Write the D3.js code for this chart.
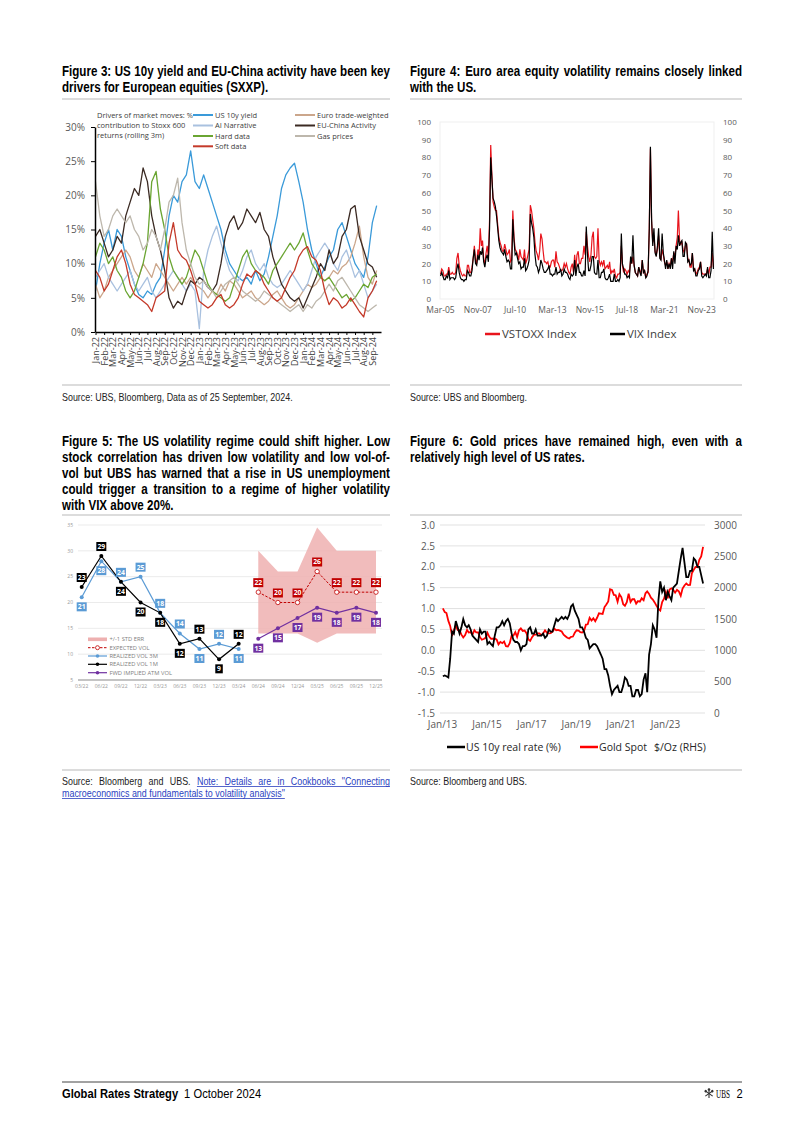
<!DOCTYPE html>
<html><head><meta charset="utf-8">
<script src="https://cdn.jsdelivr.net/npm/d3@7"></script>
<style>body{margin:0;background:#fff}svg{display:block}</style>
</head><body>
<script>
// ---------------- DATA ----------------
// Figure 3 (semi-monthly samples, % contribution)
const fig3Months = ["Jan-22","Feb-22","Mar-22","Apr-22","May-22","Jun-22","Jul-22","Aug-22","Sep-22","Oct-22","Nov-22","Dec-22","Jan-23","Feb-23","Mar-23","Apr-23","May-23","Jun-23","Jul-23","Aug-23","Sep-23","Oct-23","Nov-23","Dec-23","Jan-24","Feb-24","Mar-24","Apr-24","May-24","Jun-24","Jul-24","Aug-24","Sep-24"];
const fig3YTicks = [0,5,10,15,20,25,30];
const fig3Names = ["US 10y yield","AI Narrative","Hard data","Soft data","Euro trade-weighted","EU-China Activity","Gas prices"];
const us10yYield = [6,10,13,15,12,15,14,11,9,7, 5.5,5,6,5.5,7,8,12,17,20,19, 22,23,26.5,22,21,23,21,19,17,15, 12,10,9,8,7.5,8,7,9,7.5,8.5, 11,14,17,21,23,24,24.7,22,19,15, 12,10,8,9.5,11,12,15,16,14,12, 10,9,8,11,16,18.5];
const aiNarrative = [8,9,10,8,7,6,7,8,9,7, 6,7,8,6,5,6,7,8,9,8, 7,6,7,6,0.5,9,12,14,15.5,13, 11,9,8,7.5,9,11,12,10,9,10, 8,7,6.5,7,8,9,8,7,6,7, 9,11,12,13,12,10,9,11,12,10, 8,9,7,5,6,7];
const hardData = [11,13,12,10,11,9,8,6,5,6, 8,10,13,22,23.5,18,15,11,9,8, 7,8,10,12,11,9,7,6,5.5,5, 4.5,5,7,9,11,12,10,9,8.5,8, 7,9,10,11,12,13,12,13,14.5,12, 10,9,8,7.5,8,7,6,5,5.5,4.5, 5,6,7,6.5,8,8.5];
const softData = [9,8,6,7,9,11,12,10,7,5.5, 5,4.5,4,3,5,5.5,6,13,16,12, 11,10.5,9,7,4.5,4,3.5,4,5,5.5, 4,3.5,4,5,7,8.5,8,9,8.5,7, 6,5,4.5,5,6.5,8,9,11,12,12.5, 11,10.5,9,6,4,5,4.5,3.5,4,5, 4,3,2.2,5,6,7.5];
const euroTradeWeighted = [7,5,6,8,9,10,11,12,11,9, 8,10,9,8,10,9,8,7,6,7, 8,7,8,7,6.5,6,5,6,5.5,7, 6,7.5,7,6,5,5.5,6,5,4.5,4, 4.5,5.5,6,5,4,3.5,4,5,6,7, 6.5,7,8,7.5,8,9,8.5,9.5,10,11, 13,15.5,11,8,7,9];
const euChinaActivity = [14,15,13,11,12,14,13,17,19,21, 20,24,22,17,14,12,9,5,3.5,4.5, 4,6,7.5,7,8,7.5,6.5,6,7,10, 14,16,17,15,16,18,17,16,17.5,15, 14,11,9,7,6,5,4.5,5,3.5,5, 6.5,8,10,9,12,10,11,14,15,18, 18.5,14,12,10,9.5,8];
const gasPrices = [22,17,14,15,17,18,17,16,17,15, 14,12,13,15,14,12,15,19,20,22.5, 16,12,10,8,7,7.5,6.5,6,5,6, 7,7.5,8,7,6,5.5,5,4.5,5,6, 5.5,5,4.5,4,3.5,3,3.5,4,3,4, 3.5,4.5,5,6,7,6,7.5,8,7,6, 5,4,3.5,3,3.5,4];

// Figure 4 (monthly, Mar-05 .. Sep-24)
const fig4XTicks = ["Mar-05","Nov-07","Jul-10","Mar-13","Nov-15","Jul-18","Mar-21","Nov-23"];
const fig4YTicks = [0,10,20,30,40,50,60,70,80,90,100];
const vstoxx = [14,17,16,13,13,14,14,18,14,14,
15,14,14,15,23,26,19,16,14,13,14,13,
13,19,19,15,15,18,23,30,22,20,28,24,
40,30,33,22,20,26,30,23,45,87,70,55,
52,50,50,42,35,32,30,27,27,31,28,25,
26,28,21,22,50,35,28,27,25,22,28,24,
23,22,28,20,22,25,28,53,50,45,40,32,
27,25,22,27,37,34,27,21,21,20,21,18,
18,21,22,22,18,27,21,20,18,16,16,17,
20,18,20,17,15,14,18,20,15,25,17,25,
27,20,20,23,23,30,25,38,30,24,21,25,
35,38,24,23,24,40,22,19,21,19,22,17,
18,19,17,21,14,16,15,17,13,12,14,14,
15,30,19,15,17,16,14,16,15,22,20,24,
19,15,14,13,18,16,14,22,15,16,12,14,
15,40,85,43,32,36,27,25,28,36,25,22,
28,25,21,19,21,17,20,18,23,21,26,24,
30,35,50,33,31,32,28,26,30,31,23,22,
18,18,26,17,17,14,15,17,18,21,15,14,
14,14,14,17,14,18,18,26,18];
const vix = [13,15,13,11,11,13,12,16,11,12,
12,12,11,12,17,20,15,12,11,11,10,11,
11,16,15,13,13,16,23,28,20,19,25,22,
27,25,29,21,18,23,25,21,40,80,68,57,
55,52,47,40,33,29,27,26,25,28,24,21,
22,21,17,17,45,33,25,26,23,20,21,17,
18,18,23,16,17,19,22,48,43,40,35,25,
19,18,15,17,22,20,17,15,15,16,17,19,
14,14,13,14,14,18,14,15,15,17,13,14,
17,15,15,14,12,11,14,13,14,22,13,18,
20,15,15,13,13,16,13,41,25,16,16,19,
24,24,15,14,14,22,12,12,15,15,17,12,
11,11,12,14,10,10,10,14,10,10,11,10,
12,37,20,17,14,14,12,13,12,24,20,36,
19,15,14,13,18,15,13,22,15,16,12,13,
16,40,86,45,30,40,26,24,30,40,23,22,
37,26,22,17,22,17,20,17,23,17,27,20,
30,28,36,30,32,33,24,24,32,31,21,22,
19,20,26,16,17,13,13,16,17,21,13,12,
13,14,13,18,12,12,16,38,17];

// Figure 5 (quarterly)
const fig5Quarters = ["03/22","06/22","09/22","12/22","03/23","06/23","09/23","12/23","03/24","06/24","09/24","12/24","03/25","06/25","09/25","12/25"];
const fig5YTicks = [5,10,15,20,25,30,35];
const realizedVol1M = [23,29,24,20,18,12,13,9,12];
const realizedVol3M = [21,28,24,25,18,14,11,12,11];
const expectedVol = [22,20,20,26,22,22,22];
const fwdImpliedVol = [13,15,17,19,18,19,18];
const stdErrUpper = [30,26,26,34.5,30,30,30];
const stdErrLower = [14,14,14,12.2,14,14,14];
const fig5Legend = ["+/-1 STD ERR","EXPECTED VOL","REALIZED VOL 3M","REALIZED VOL 1M","FWD IMPLIED ATM VOL"];

// Figure 6 (monthly, Jan-13 .. Sep-24)
const fig6XTicks = ["Jan/13","Jan/15","Jan/17","Jan/19","Jan/21","Jan/23"];
const fig6LeftTicks = [-1.5,-1.0,-0.5,0,0.5,1.0,1.5,2.0,2.5,3.0];
const fig6RightTicks = [0,500,1000,1500,2000,2500,3000];
const us10yRealRate = [-0.62,-0.6,-0.62,-0.65,-0.2,0.45,0.4,0.7,0.55,0.4,0.55,0.75,
0.6,0.55,0.6,0.5,0.35,0.3,0.25,0.2,0.5,0.4,0.45,0.45,
0.15,0.2,0.15,0.1,0.35,0.55,0.55,0.6,0.7,0.6,0.7,0.75,
0.65,0.4,0.25,0.2,0.2,0.15,0.0,0.1,0.1,0.15,0.5,0.55,
0.4,0.4,0.5,0.35,0.35,0.35,0.4,0.3,0.35,0.5,0.45,0.45,
0.6,0.75,0.7,0.75,0.8,0.75,0.8,0.75,0.85,1.05,1.1,0.95,
0.85,0.75,0.55,0.55,0.45,0.3,0.25,0.05,0.1,0.15,0.15,0.1,
0.0,-0.1,-0.2,-0.45,-0.45,-0.6,-0.85,-1.05,-0.95,-0.9,-0.85,-1.0,
-1.0,-0.85,-0.65,-0.7,-0.85,-0.85,-1.1,-1.1,-0.95,-0.95,-1.1,-1.05,
-0.7,-0.55,-1.0,-0.1,0.15,0.6,0.5,0.3,1.2,1.65,1.4,1.5,
1.2,1.4,1.3,1.2,1.5,1.55,1.6,1.9,2.2,2.45,2.1,1.75,
1.75,1.9,1.9,2.2,2.15,2.0,2.0,1.8,1.6];
const goldSpot = [1670,1610,1595,1470,1390,1230,1320,1395,1325,1320,1250,1205,
1245,1325,1285,1290,1250,1320,1285,1285,1210,1170,1180,1200,
1280,1215,1185,1185,1190,1170,1095,1135,1115,1140,1065,1060,
1115,1235,1235,1290,1215,1320,1350,1310,1315,1275,1175,1150,
1210,1250,1250,1270,1270,1240,1270,1320,1280,1270,1275,1300,
1345,1320,1325,1315,1300,1250,1225,1200,1190,1215,1220,1280,
1320,1315,1290,1285,1305,1410,1415,1520,1475,1510,1465,1520,
1590,1585,1580,1690,1730,1780,1975,1965,1885,1880,1775,1895,
1850,1735,1710,1770,1905,1770,1815,1815,1745,1785,1775,1830,
1800,1910,1940,1900,1840,1810,1765,1710,1660,1635,1770,1825,
1930,1830,1970,1990,1965,1920,1965,1940,1870,1985,2035,2065,
2040,2045,2230,2285,2330,2325,2445,2500,2650];

// ---------------- DRAWING ----------------
const BASE = "'Liberation Sans',Arial,sans-serif";   // condensed by horizontal scaling
const SANS = "'Open Sans','Noto Sans',sans-serif";
const svg = d3.select("body").append("svg").attr("width",802).attr("height",1134);
svg.append("rect").attr("width",802).attr("height",1134).attr("fill","#fff");

function txt(g,x,y,s,o={}){
  return g.append("text").attr("x",x).attr("y",y).text(s)
    .attr("font-family",o.ff||SANS).attr("font-size",o.fs||10)
    .attr("font-weight",o.fw||"normal").attr("fill",o.fill||"#000")
    .attr("text-anchor",o.anchor||"start");
}
function nline(g,items,x,y,width,last){
  const SQ = items[0].o.sq||0.85;
  const grp = g.append("g").attr("transform",`translate(${x},${y}) scale(${SQ},1)`);
  const nodes = items.map(it=>txt(grp,0,0,it.t,Object.assign({ff:BASE},it.o)));
  const ws = nodes.map(n=>n.node().getComputedTextLength());
  const sp = (items[0].o.fs||10)*0.28;
  const W = width/SQ;
  const gap = (last||items.length<2) ? sp : (W-d3.sum(ws))/(items.length-1);
  let cx = 0; const pos=[];
  nodes.forEach((n,i)=>{n.attr("x",cx); pos.push([x+cx*SQ,x+(cx+ws[i])*SQ]); cx+=ws[i]+gap;});
  return pos;
}
function ntext(g,x,y,s,o){ return nline(g,s.split(" ").map(t=>({t,o})),x,y,0,true); }
function para(g,lines,x,y0,lh,width,o){
  lines.forEach((ln,i)=>nline(g, ln.split(" ").map(t=>({t,o})), x, y0+i*lh, width, i===lines.length-1));
}
function hline(x1,x2,y,c,w){svg.append("line").attr("x1",x1).attr("x2",x2).attr("y1",y).attr("y2",y).attr("stroke",c).attr("stroke-width",w);}

const TITLE = {fs:13.8,fw:"bold",fill:"#000",sq:0.84};
const SRC = {fs:10.5,fill:"#222",sq:0.85};
const LX=62, LW=328, RX=410, RW=332;

// Titles
para(svg,["Figure 3: US 10y yield and EU-China activity have been key","drivers for European equities (SXXP)."],LX,75.5,16,LW,TITLE);
para(svg,["Figure 4: Euro area equity volatility remains closely linked","with the US."],RX,75.5,16,RW,TITLE);
para(svg,["Figure 5: The US volatility regime could shift higher. Low","stock correlation has driven low volatility and low vol-of-","vol but UBS has warned that a rise in US unemployment","could trigger a transition to a regime of higher volatility","with VIX above 20%."],LX,445.5,16,LW,TITLE);
para(svg,["Figure 6: Gold prices have remained high, even with a","relatively high level of US rates."],RX,445.5,16,RW,TITLE);

// separators
[99,385,515,770].forEach(y=>{hline(LX,LX+LW,y,"#dcdcdc",2);hline(RX,RX+RW,y,"#dcdcdc",2);});

// Sources
ntext(svg,LX,400.5,"Source: UBS, Bloomberg, Data as of 25 September, 2024.",SRC);
ntext(svg,RX,400.5,"Source: UBS and Bloomberg.",SRC);
ntext(svg,RX,784.5,"Source: Bloomberg and UBS.",SRC);
{
  const LINK = {fs:10.5,fill:"#2b3fbf",sq:0.85};
  const items = ["Source:","Bloomberg","and","UBS."].map(t=>({t,o:SRC}))
    .concat(["Note:","Details","are","in","Cookbooks","\"Connecting"].map(t=>({t,o:LINK})));
  const pos = nline(svg,items,LX,784.5,LW,false);
  hline(pos[4][0],pos[9][1],786.5,"#2b3fbf",0.8);
  const p2 = ntext(svg,LX,796.5,"macroeconomics and fundamentals to volatility analysis\"",LINK);
  hline(LX,p2[p2.length-1][1],798.5,"#2b3fbf",0.8);
}

// Footer
hline(62,742,1082,"#444",1);
{
  const FB = {fs:13,fw:"bold",sq:0.86};
  const p = ntext(svg,62,1098,"Global Rates Strategy",FB);
  ntext(svg,p[2][1]+6,1098,"1 October 2024",{fs:13,sq:0.86});
  ntext(svg,736.5,1098,"2",{fs:13,sq:0.86});
  txt(svg,716,1098,"UBS",{ff:"'Liberation Serif',serif",fs:11.5}).attr("textLength",14).attr("lengthAdjust","spacingAndGlyphs");
  const lg = svg.append("g").attr("transform","translate(709,1093.5)");
  [-55,0,55].forEach(a=>{
    const k = lg.append("g").attr("transform",`rotate(${a})`);
    k.append("line").attr("x1",0).attr("y1",-4.5).attr("x2",0).attr("y2",4.5).attr("stroke","#333").attr("stroke-width",1.1);
    k.append("circle").attr("cx",0).attr("cy",-4).attr("r",1.3).attr("fill","#333");
  });
}

// ---------- Figure 3 ----------
{
  const g = svg.append("g");
  const x = d3.scaleLinear().domain([0,33]).range([95.5,381]);
  const y = d3.scaleLinear().domain([0,30]).range([332,127]);
  const series = [us10yYield,aiNarrative,hardData,softData,euroTradeWeighted,euChinaActivity,gasPrices];
  const colors = ["#3a9ad9","#a9c1df","#6aa532","#c43a2a","#cba68b","#3b2a23","#bdb7ac"];
  const order = [0,4,1,5,2,6,3];
  const line = d3.line().x((d,i)=>x(i/2)).y(d=>y(d));
  order.forEach(k=>{
    g.append("path").datum(series[k]).attr("d",line).attr("fill","none")
      .attr("stroke",colors[k]).attr("stroke-width",1.3).attr("stroke-linejoin","round");
  });
  const ya = g.append("g").attr("transform","translate(95,0)")
    .call(d3.axisLeft(y).tickValues(fig3YTicks).tickFormat(d=>d+"%").tickSize(4).tickSizeOuter(0).tickPadding(6));
  ya.select(".domain").attr("stroke","#000").attr("stroke-width",1.5);
  ya.selectAll("text").attr("font-family",SANS).attr("font-size",10).attr("fill","#595959");
  const xa = g.append("g").attr("transform","translate(0,332)")
    .call(d3.axisBottom(x).tickValues(d3.range(fig3Months.length)).tickFormat(i=>fig3Months[i]).tickSize(3).tickSizeOuter(0));
  xa.select(".domain").attr("stroke","#000").attr("stroke-width",1.5);
  xa.selectAll("text").attr("transform","rotate(-90)").attr("text-anchor","end")
    .attr("x",-5).attr("y",0).attr("dy","0.35em")
    .attr("font-family",SANS).attr("font-size",9).attr("fill","#404040");
  const LF = {ff:SANS,fs:7.5,fill:"#404040"};
  ["Drivers of market moves: %","contribution to Stoxx 600","returns (rolling 3m)"].forEach((s,i)=>txt(g,97,118+i*10,s,LF));
  const rowsY=[115,125.5,136,146.3];
  [0,1,2,3].forEach((k,i)=>{
    g.append("line").attr("x1",193).attr("x2",213).attr("y1",rowsY[i]).attr("y2",rowsY[i]).attr("stroke",colors[k]).attr("stroke-width",2);
    txt(g,215,rowsY[i]+2.7,fig3Names[k],LF);
  });
  [4,5,6].forEach((k,i)=>{
    g.append("line").attr("x1",295).attr("x2",315).attr("y1",rowsY[i]).attr("y2",rowsY[i]).attr("stroke",colors[k]).attr("stroke-width",2);
    txt(g,317,rowsY[i]+2.7,fig3Names[k],LF);
  });
}

// ---------- Figure 4 ----------
{
  const g = svg.append("g");
  const start = new Date(2005,2,15);
  const x = d3.scaleTime().domain([new Date(2005,2,1),new Date(2024,8,30)]).range([440,714]);
  const y = d3.scaleLinear().domain([0,100]).range([299,122]);
  g.append("rect").attr("x",440).attr("y",y(100)).attr("width",274).attr("height",y(0)-y(100))
    .attr("fill","none").attr("stroke","#efefef").attr("stroke-width",1);
  const line = d3.line().x((d,i)=>x(d3.timeMonth.offset(start,i))).y(d=>y(d));
  g.append("path").datum(vstoxx).attr("d",line).attr("fill","none").attr("stroke","#e8141c").attr("stroke-width",1.2);
  g.append("path").datum(vix).attr("d",line).attr("fill","none").attr("stroke","#000").attr("stroke-width",1.2);
  const st = s=>{s.select(".domain").remove(); s.selectAll("text").attr("font-family",SANS).attr("font-size",8).attr("fill","#595959");};
  g.append("g").attr("transform","translate(440,0)").call(d3.axisLeft(y).tickValues(fig4YTicks).tickSize(0).tickPadding(9)).call(st);
  g.append("g").attr("transform","translate(714,0)").call(d3.axisRight(y).tickValues(fig4YTicks).tickSize(0).tickPadding(9)).call(st);
  const parse = d3.timeParse("%b-%y");
  g.append("g").attr("transform","translate(0,299)")
    .call(d3.axisBottom(x).tickValues(fig4XTicks.map(parse)).tickFormat(d3.timeFormat("%b-%y")).tickSize(0).tickPadding(8))
    .call(st).selectAll("text").attr("font-size",8.5);
  const LF = {ff:SANS,fs:11.5,fill:"#404040"};
  g.append("line").attr("x1",485).attr("x2",500).attr("y1",334).attr("y2",334).attr("stroke","#e8141c").attr("stroke-width",2.5);
  txt(g,502,338,"VSTOXX Index",LF);
  g.append("line").attr("x1",610).attr("x2",625).attr("y1",334).attr("y2",334).attr("stroke","#000").attr("stroke-width",2.5);
  txt(g,627,338,"VIX Index",LF);
}

// ---------- Figure 5 ----------
{
  const g = svg.append("g");
  const x = d3.scalePoint().domain(fig5Quarters).range([81.7,376]);
  const y = d3.scaleLinear().domain([5,35]).range([680,525]);
  fig5YTicks.forEach(v=>{
    g.append("line").attr("x1",78).attr("x2",382).attr("y1",y(v)).attr("y2",y(v))
      .attr("stroke",v===5?"#c4c4c4":"#e6e6e6").attr("stroke-width",v===5?2:0.8);
    txt(g,73,y(v)+1.7,v,{ff:SANS,fs:5,fill:"#999",anchor:"end"});
  });
  fig5Quarters.forEach(q=>txt(g,x(q),688,q,{ff:SANS,fs:5,fill:"#999",anchor:"middle"}));
  const fq = fig5Quarters.slice(9), hq = fig5Quarters.slice(0,9);
  g.append("path").datum(fq).attr("d",d3.area().x(q=>x(q)).y0((q,i)=>y(stdErrLower[i])).y1((q,i)=>y(stdErrUpper[i])))
    .attr("fill","#eeb0b0").attr("opacity",0.85);
  const mk = (qs,vals)=>qs.map((q,i)=>[x(q),y(vals[i])]);
  const ln = d3.line();
  const red="#c00000", blue="#5b9bd5", purple="#7030a0";
  g.append("path").attr("d",ln(mk(fq,expectedVol))).attr("fill","none").attr("stroke",red).attr("stroke-width",1).attr("stroke-dasharray","2.5,1.5");
  g.append("path").attr("d",ln(mk(hq,realizedVol3M))).attr("fill","none").attr("stroke",blue).attr("stroke-width",1.2);
  g.append("path").attr("d",ln(mk(hq,realizedVol1M))).attr("fill","none").attr("stroke","#000").attr("stroke-width",1.2);
  g.append("path").attr("d",ln(mk(fq,fwdImpliedVol))).attr("fill","none").attr("stroke",purple).attr("stroke-width",1.2);
  mk(hq,realizedVol3M).forEach(p=>g.append("circle").attr("cx",p[0]).attr("cy",p[1]).attr("r",2).attr("fill",blue));
  mk(hq,realizedVol1M).forEach(p=>g.append("circle").attr("cx",p[0]).attr("cy",p[1]).attr("r",2).attr("fill","#000"));
  mk(fq,fwdImpliedVol).forEach(p=>g.append("circle").attr("cx",p[0]).attr("cy",p[1]).attr("r",2).attr("fill",purple));
  mk(fq,expectedVol).forEach(p=>g.append("circle").attr("cx",p[0]).attr("cy",p[1]).attr("r",2.2).attr("fill","#fff").attr("stroke",red).attr("stroke-width",0.8));
  const box = (qs,vals,col,sides)=>qs.forEach((q,i)=>{
    const s = String(vals[i]); const w = s.length>1?10:7.5;
    const cy = y(vals[i]) + sides[i]*9.5;
    g.append("rect").attr("x",x(q)-w/2).attr("y",cy-4.5).attr("width",w).attr("height",9).attr("fill",col);
    txt(g,x(q),cy+2.4,s,{ff:SANS,fs:6.8,fw:"bold",fill:"#fff",anchor:"middle"});
  });
  box(hq,realizedVol1M,"#000",[-1,-1,1,1,1,1,-1,1,-1]);
  box(hq,realizedVol3M,blue,[1,1,-1,-1,-1,-1,1,-1,1]);
  box(fq,expectedVol,red,[-1,-1,-1,-1,-1,-1,-1]);
  box(fq,fwdImpliedVol,purple,[1,1,1,1,1,1,1]);
  const ly=[639.3,647.7,656,664.3,672.7];
  g.append("rect").attr("x",88).attr("y",ly[0]-1.8).attr("width",19).attr("height",3.6).attr("fill","#eeb0b0");
  g.append("line").attr("x1",88).attr("x2",107).attr("y1",ly[1]).attr("y2",ly[1]).attr("stroke",red).attr("stroke-width",1).attr("stroke-dasharray","2.5,1.5");
  g.append("circle").attr("cx",97.5).attr("cy",ly[1]).attr("r",2).attr("fill","#fff").attr("stroke",red).attr("stroke-width",0.8);
  [[blue,2],["#000",3],[purple,4]].forEach(([c,i])=>{
    g.append("line").attr("x1",88).attr("x2",107).attr("y1",ly[i]).attr("y2",ly[i]).attr("stroke",c).attr("stroke-width",1.2);
    g.append("circle").attr("cx",97.5).attr("cy",ly[i]).attr("r",1.8).attr("fill",c);
  });
  fig5Legend.forEach((s,i)=>txt(g,109.5,ly[i]+2,s,{ff:SANS,fs:5.8,fill:"#808080"}));
}

// ---------- Figure 6 ----------
{
  const g = svg.append("g");
  const start = new Date(2013,0,15);
  const x = d3.scaleTime().domain([new Date(2013,0,1),new Date(2024,8,30)]).range([442,704]);
  const yL = d3.scaleLinear().domain([-1.5,3]).range([713,525]);
  const yR = d3.scaleLinear().domain([0,3000]).range([713,525]);
  fig6LeftTicks.forEach(v=>g.append("line").attr("x1",440).attr("x2",705).attr("y1",yL(v)).attr("y2",yL(v)).attr("stroke","#d9d9d9").attr("stroke-width",0.8));
  const st = s=>{s.select(".domain").remove(); s.selectAll("text").attr("font-family",SANS).attr("font-size",10).attr("fill","#595959");};
  g.append("g").attr("transform","translate(440,0)").call(d3.axisLeft(yL).tickValues(fig6LeftTicks).tickFormat(d=>d.toFixed(1)).tickSize(0).tickPadding(5)).call(st);
  g.append("g").attr("transform","translate(705,0)").call(d3.axisRight(yR).tickValues(fig6RightTicks).tickFormat(d=>String(d)).tickSize(0).tickPadding(9)).call(st);
  const parse = d3.timeParse("%b/%y");
  g.append("g").attr("transform","translate(0,713)")
    .call(d3.axisBottom(x).tickValues(fig6XTicks.map(parse)).tickFormat(d3.timeFormat("%b/%y")).tickSize(0).tickPadding(8)).call(st);
  const xi = (d,i)=>x(d3.timeMonth.offset(start,i));
  g.append("path").datum(goldSpot).attr("d",d3.line().x(xi).y(d=>yR(d))).attr("fill","none").attr("stroke","#ff0000").attr("stroke-width",1.8);
  g.append("path").datum(us10yRealRate).attr("d",d3.line().x(xi).y(d=>yL(d))).attr("fill","none").attr("stroke","#000").attr("stroke-width",1.8);
  const LF = {ff:SANS,fs:10.5,fill:"#262626"};
  g.append("line").attr("x1",447).attr("x2",465).attr("y1",747).attr("y2",747).attr("stroke","#000").attr("stroke-width",2.5);
  txt(g,466,751,"US 10y real rate (%)",LF);
  g.append("line").attr("x1",580).attr("x2",598).attr("y1",747).attr("y2",747).attr("stroke","#ff0000").attr("stroke-width",2.5);
  txt(g,599,751,"Gold Spot",LF);
  txt(g,654,751,"$/Oz (RHS)",LF);
}
</script>
</body></html>
